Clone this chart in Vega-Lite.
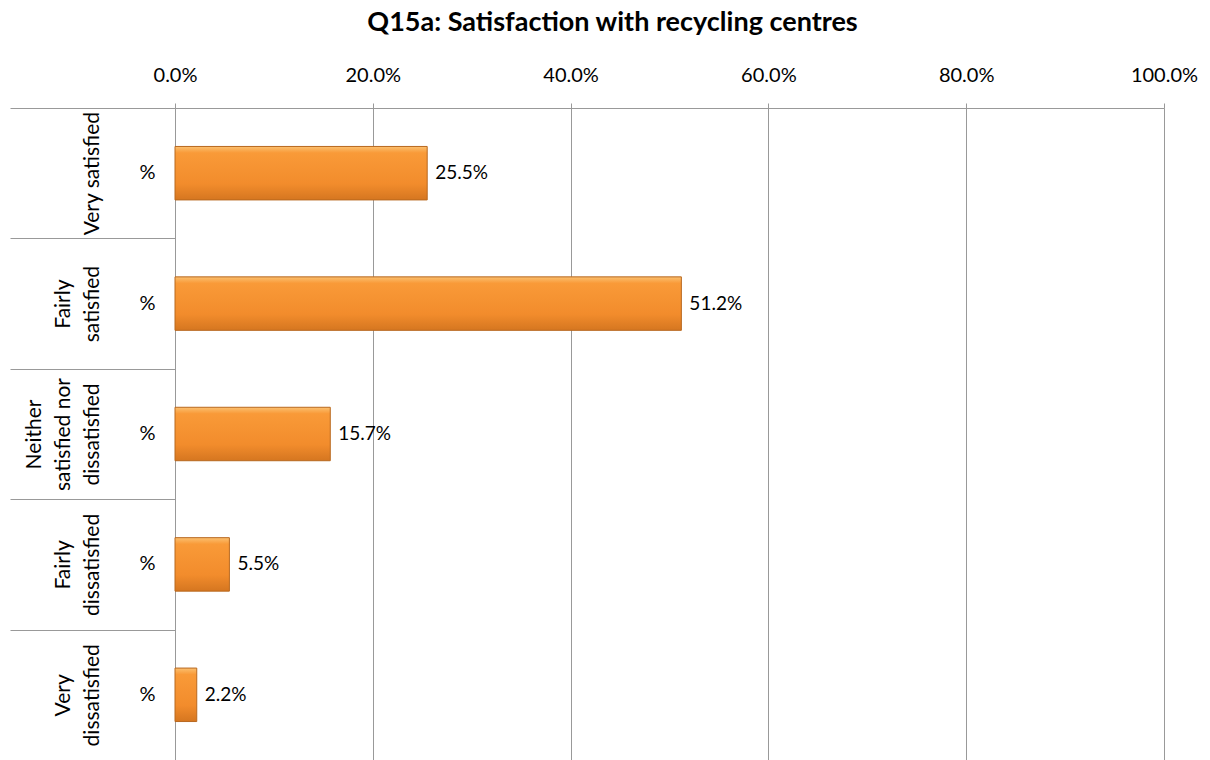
{
  "$schema": "https://vega.github.io/schema/vega-lite/v6.json",
  "autosize": "none",
  "width": 989,
  "height": 652,
  "padding": {"left": 175, "top": 108, "right": 46, "bottom": 0},
  "background": "white",
  "config": {
    "font": "Lato",
    "view": {"stroke": null}
  },
  "title": {
    "text": "Q15a: Satisfaction with recycling centres",
    "font": "Lato",
    "fontSize": 27,
    "fontWeight": "bold",
    "color": "#000000",
    "anchor": "middle",
    "frame": "bounds",
    "dx": 9,
    "offset": 28
  },
  "data": {
    "values": [
      {"category": "Very satisfied", "share": 0.255},
      {"category": "Fairly satisfied", "share": 0.512},
      {"category": "Neither satisfied nor dissatisfied", "share": 0.157},
      {"category": "Fairly dissatisfied", "share": 0.055},
      {"category": "Very dissatisfied", "share": 0.022}
    ]
  },
  "encoding": {
    "y": {
      "field": "category",
      "type": "nominal",
      "sort": null,
      "scale": {"paddingInner": 0, "paddingOuter": 0}
    },
    "x": {
      "field": "share",
      "type": "quantitative",
      "scale": {"domain": [0, 1]},
      "axis": {
        "orient": "top",
        "title": null,
        "format": ".1%",
        "values": [0, 0.2, 0.4, 0.6, 0.8, 1],
        "grid": true,
        "gridColor": "#999999",
        "gridWidth": 1,
        "domain": true,
        "domainColor": "#999999",
        "ticks": true,
        "tickSize": 5,
        "tickColor": "#999999",
        "labelFontSize": 20,
        "labelColor": "#000000",
        "labelPadding": 18,
        "labelFlush": false
      }
    }
  },
  "layer": [
    {
      "mark": {
        "type": "bar",
        "height": {"band": 0.41},
        "color": {
          "gradient": "linear",
          "x1": 0, "y1": 0, "x2": 0, "y2": 1,
          "stops": [
            {"offset": 0, "color": "#FBC070"},
            {"offset": 0.12, "color": "#F99A38"},
            {"offset": 0.7, "color": "#F28C2C"},
            {"offset": 1, "color": "#D57620"}
          ]
        },
        "stroke": "#B8681F",
        "strokeWidth": 1
      },
      "encoding": {
        "y": {
          "field": "category",
          "type": "nominal",
          "sort": null,
          "axis": {
            "orient": "left",
            "title": null,
            "labelExpr": "'%'",
            "ticks": false,
            "domain": true,
            "domainColor": "#999999",
            "labelPadding": 20,
            "labelFontSize": 20,
            "labelColor": "#000000",
            "labelOverlap": false
          }
        }
      }
    },
    {
      "mark": {
        "type": "text",
        "align": "left",
        "baseline": "middle",
        "dx": 8,
        "fontSize": 19,
        "color": "#000000"
      },
      "encoding": {
        "text": {"field": "share", "type": "quantitative", "format": ".1%"},
        "y": {
          "field": "category",
          "type": "nominal",
          "sort": null,
          "axis": {
            "orient": "left",
            "title": null,
            "labelExpr": "datum.value == 'Neither satisfied nor dissatisfied' ? ['Neither', 'satisfied nor', 'dissatisfied'] : datum.value == 'Fairly satisfied' ? ['\u200b', 'Fairly', 'satisfied'] : datum.value == 'Fairly dissatisfied' ? ['\u200b', 'Fairly', 'dissatisfied'] : datum.value == 'Very dissatisfied' ? ['\u200b', 'Very', 'dissatisfied'] : datum.value == 'Very satisfied' ? ['\u200b', '\u200b', 'Very satisfied'] : datum.label",
            "labelAngle": -90,
            "labelAlign": "center",
            "labelBaseline": "bottom",
            "labelLineHeight": 29,
            "ticks": true,
            "tickBand": "extent",
            "tickSize": 165,
            "tickColor": "#999999",
            "domain": false,
            "labelPadding": -34,
            "labelFontSize": 21,
            "labelColor": "#000000",
            "labelOverlap": false,
            "labelLimit": 300
          }
        }
      }
    }
  ],
  "resolve": {"axis": {"y": "independent"}}
}
